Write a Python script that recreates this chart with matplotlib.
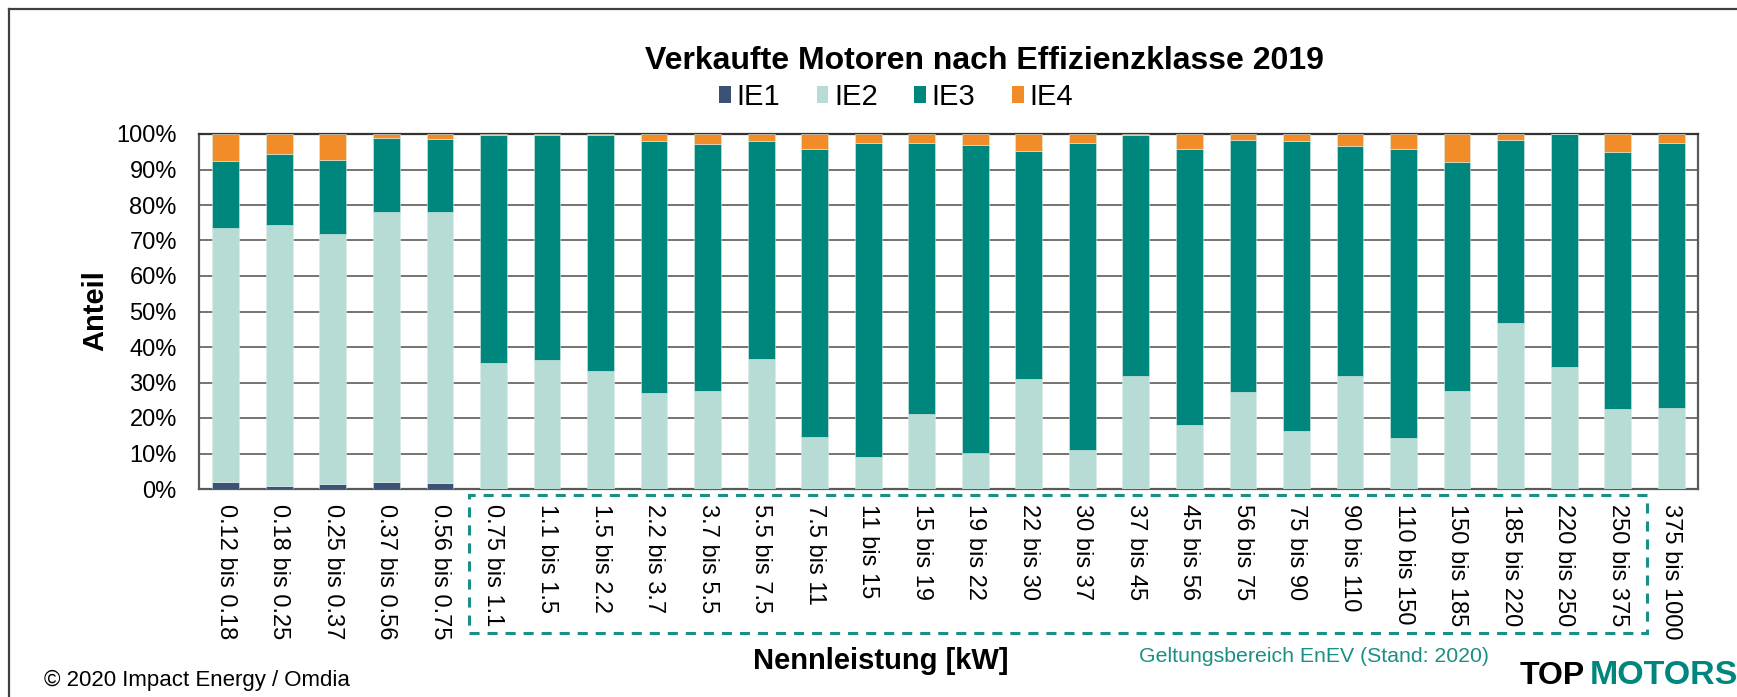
import matplotlib
matplotlib.use("Agg")
import matplotlib.pyplot as plt
from matplotlib.lines import Line2D
from matplotlib.patches import Rectangle, Patch
import numpy as np

plt.rcParams['font.family'] = ['Liberation Sans', 'DejaVu Sans']

categories = ["0.12 bis 0.18", "0.18 bis 0.25", "0.25 bis 0.37", "0.37 bis 0.56", "0.56 bis 0.75",
              "0.75 bis 1.1", "1.1 bis 1.5", "1.5 bis 2.2", "2.2 bis 3.7", "3.7 bis 5.5",
              "5.5 bis 7.5", "7.5 bis 11", "11 bis 15", "15 bis 19", "19 bis 22",
              "22 bis 30", "30 bis 37", "37 bis 45", "45 bis 56", "56 bis 75",
              "75 bis 90", "90 bis 110", "110 bis 150", "150 bis 185", "185 bis 220",
              "220 bis 250", "250 bis 375", "375 bis 1000"]

ie1 = [1.9, 0.9, 1.5, 2.1, 1.8, 0.0, 0.0, 0.0, 0.0, 0.0, 0.0, 0.0, 0.0, 0.0, 0.0,
       0.3, 0.0, 0.3, 0.0, 0.0, 0.0, 0.0, 0.0, 0.0, 0.0, 0.0, 0.0, 0.0]
ie2 = [71.6, 73.4, 70.2, 75.9, 76.1, 35.5, 36.3, 33.3, 27.0, 27.7, 36.5, 14.6, 8.9, 21.1, 10.2,
       30.6, 10.9, 31.5, 17.9, 27.2, 16.3, 31.7, 14.5, 27.6, 46.9, 34.5, 22.5, 22.8]
ie3 = [18.8, 20.0, 21.1, 20.8, 20.6, 64.2, 63.5, 66.3, 71.0, 69.4, 61.5, 81.3, 88.7, 76.3, 86.7,
       64.3, 86.6, 68.0, 78.0, 71.1, 81.6, 65.0, 81.3, 64.6, 51.5, 65.5, 72.5, 74.8]
ie4 = [7.7, 5.7, 7.2, 1.2, 1.5, 0.3, 0.2, 0.4, 2.0, 2.9, 2.0, 4.1, 2.4, 2.6, 3.1,
       4.8, 2.5, 0.2, 4.1, 1.7, 2.1, 3.3, 4.2, 7.8, 1.6, 0.0, 5.0, 2.4]

series = [("IE1", ie1, "#3B5275"), ("IE2", ie2, "#B7DCD5"),
          ("IE3", ie3, "#00877D"), ("IE4", ie4, "#F28C28")]
yticks = [0, 10, 20, 30, 40, 50, 60, 70, 80, 90, 100]
ytick_labels = [f"{v}%" for v in yticks]

W, H = 1737, 697
fig = plt.figure(figsize=(W / 100, H / 100), dpi=100)
ax = fig.add_axes([199 / W, 1 - 489 / H, (1698 - 199) / W, (489 - 134) / H])

x = np.arange(len(categories))
bottom = np.zeros(len(categories))
for name, vals, col in series:
    v = np.array(vals)
    ax.bar(x, v, bottom=bottom, width=0.5, color=col, label=name, zorder=3,
           edgecolor='#d8ece8', linewidth=0.4)
    bottom += v

ax.set_xlim(-0.5, len(categories) - 0.5)
ax.set_ylim(0, 100)
ax.set_yticks(yticks)
ax.set_yticklabels(ytick_labels, fontsize=17)
ax.set_xticks(x)
ax.set_xticklabels(categories, rotation=-90, fontsize=17, ha='center', va='top')
ax.tick_params(axis='both', length=0)
ax.tick_params(axis='y', pad=16)
ax.tick_params(axis='x', pad=11)
ax.grid(axis='y', color='#5f5b58', linewidth=1.2, zorder=0)
ax.set_axisbelow(True)
for s in ax.spines.values():
    s.set_color('#5a5a5a')
    s.set_linewidth(1.6)
ax.spines['top'].set_color('#333333')

# Title and legend
fig.text(984 / W, 1 - 61 / H, "Verkaufte Motoren nach Effizienzklasse 2019",
         fontsize=23, fontweight='bold', ha='center', va='center')
handles = [Patch(facecolor=c, edgecolor='none') for _, _, c in series]
fig.legend(handles, [n for n, _, _ in series], loc='center',
           bbox_to_anchor=(896 / W, 1 - 97 / H), ncol=4, frameon=False,
           fontsize=21, handlelength=0.4, handleheight=0.55, handletextpad=0.2,
           columnspacing=1.25)

# Axis labels
fig.text(95 / W, 1 - 311 / H, "Anteil", fontsize=21, fontweight='bold',
         rotation=90, ha='center', va='center')
fig.text(881 / W, 1 - 661 / H, "Nennleistung [kW]", fontsize=21, fontweight='bold',
         ha='center', va='center')

# EnEV dashed box
teal = '#1A8F85'
fig.add_artist(Rectangle((469 / W, 1 - 633 / H), (1647 - 469) / W, (633 - 495) / H,
                         transform=fig.transFigure, fill=False, edgecolor=teal,
                         linewidth=2.2, linestyle=(0, (3.3, 2.6))))
fig.text(1139 / W, 1 - 656 / H, "Geltungsbereich EnEV (Stand: 2020)", color=teal,
         fontsize=15.3, ha='left', va='center')

# Copyright
fig.text(44 / W, 1 - 680 / H, "\u00a9 2020 Impact Energy / Omdia", fontsize=16,
         ha='left', va='center')

# Logo
fig.text(1520 / W, 1 - 676 / H, "TOP", fontsize=23, fontweight='heavy', color='black',
         ha='left', va='center')
fig.text(1590 / W, 1 - 676 / H, "MOTORS", fontsize=24.5, fontweight='heavy',
         color='#00877D', ha='left', va='center')

# Figure frame (top and left edges)
fig.add_artist(Line2D([9 / W, 1], [1 - 9 / H, 1 - 9 / H], transform=fig.transFigure,
                      color='#404040', linewidth=1.6))
fig.add_artist(Line2D([9 / W, 9 / W], [0, 1 - 9 / H], transform=fig.transFigure,
                      color='#404040', linewidth=1.6))

fig.savefig("out.png", dpi=100)
